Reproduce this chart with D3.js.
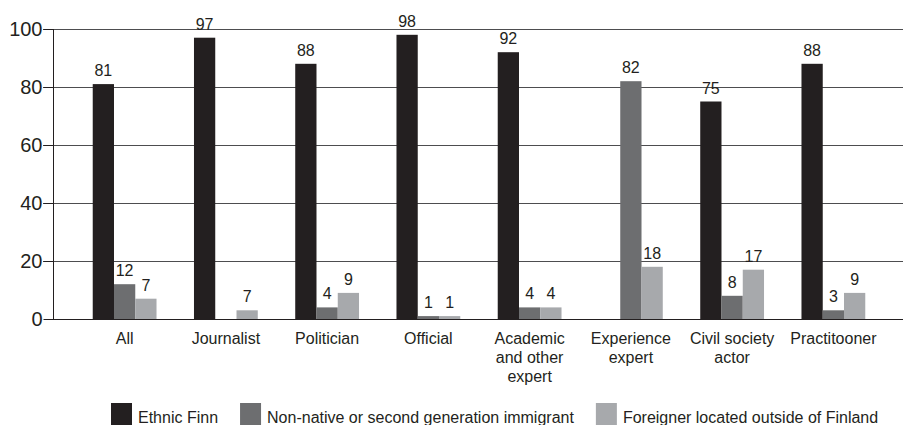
<!DOCTYPE html>
<html>
<head>
<meta charset="utf-8">
<script src="https://cdn.jsdelivr.net/npm/d3@7"></script>
<style>
  body { margin: 0; background: #fff; }
  svg { display: block; font-family: "Liberation Sans", Arial, Helvetica, sans-serif; }
</style>
</head>
<body>
<svg id="chart"></svg>
<script>
// categories along the x axis ("\n" = line break in label)
var categories = ["All", "Journalist", "Politician", "Official",
  "Academic\nand other\nexpert", "Experience\nexpert", "Civil society\nactor", "Practitooner"];

var seriesNames = ["Ethnic Finn", "Non-native or second generation immigrant", "Foreigner located outside of Finland"];
var seriesColors = ["#231f20", "#6d6e70", "#a7a9ac"];

// bar heights (null = no bar)
var ethnicFinn = [81, 97, 88, 98, 92, null, 75, 88];
var nonNative  = [12, null, 4, 1, 4, 82, 8, 3];
var foreigner  = [7, 3, 9, 1, 4, 18, 17, 9];

// printed value labels (Journalist's foreigner bar is labelled 7 in the source)
var ethnicFinnText = [81, 97, 88, 98, 92, null, 75, 88];
var nonNativeText  = [12, null, 4, 1, 4, 82, 8, 3];
var foreignerText  = [7, 7, 9, 1, 4, 18, 17, 9];

var yTicks = [0, 20, 40, 60, 80, 100];

var W = 903, H = 425;
var axisX = 53, plotRight = 903;

var svg = d3.select("#chart").attr("width", W).attr("height", H);

var y = d3.scaleLinear().domain([0, 100]).range([319, 29]);

var x0 = d3.scaleBand()
  .domain(categories)
  .range([74, 884])
  .paddingInner(0.37)
  .paddingOuter(0.185);

var x1 = d3.scaleBand()
  .domain([0, 1, 2])
  .range([0, x0.bandwidth()]);

var values = [ethnicFinn, nonNative, foreigner];
var texts = [ethnicFinnText, nonNativeText, foreignerText];

var bars = [];
categories.forEach(function(c, i) {
  for (var s = 0; s < 3; s++) {
    bars.push({cat: c, s: s, v: values[s][i], t: texts[s][i]});
  }
});

/** gridlines **/
svg.append("g").selectAll("line")
  .data(yTicks.filter(function(d) { return d > 0; }))
  .enter().append("line")
    .attr("x1", axisX - 10).attr("x2", plotRight)
    .attr("y1", function(d) { return y(d) + 0.5; })
    .attr("y2", function(d) { return y(d) + 0.5; })
    .attr("stroke", "#4d4d4f").attr("stroke-width", 1);

/** y axis **/
var yAxis = d3.axisLeft(y).tickValues(yTicks).tickSize(10).tickPadding(1);
var gy = svg.append("g")
  .attr("transform", "translate(" + (axisX + 0.5) + ",0)")
  .call(yAxis);
gy.select(".domain").remove();
gy.selectAll(".tick line").attr("stroke", "#231f20");
gy.selectAll("text")
  .attr("fill", "#231f20")
  .style("font-size", "20px")
  .style("font-family", "Liberation Sans, Arial, sans-serif");

svg.append("line")
  .attr("x1", axisX + 0.5).attr("x2", axisX + 0.5)
  .attr("y1", y(100)).attr("y2", y(0))
  .attr("stroke", "#231f20");

/** bars **/
svg.append("g").selectAll("rect")
  .data(bars.filter(function(d) { return d.v != null; }))
  .enter().append("rect")
    .attr("x", function(d) { return x0(d.cat) + x1(d.s); })
    .attr("y", function(d) { return y(d.v); })
    .attr("width", x1.bandwidth())
    .attr("height", function(d) { return y(0) - y(d.v); })
    .attr("fill", function(d) { return seriesColors[d.s]; });

/** baseline **/
svg.append("line")
  .attr("x1", axisX).attr("x2", plotRight)
  .attr("y1", y(0) + 0.5).attr("y2", y(0) + 0.5)
  .attr("stroke", "#231f20");

/** value labels **/
svg.append("g").selectAll("text")
  .data(bars.filter(function(d) { return d.t != null; }))
  .enter().append("text")
    .attr("x", function(d) { return x0(d.cat) + x1(d.s) + x1.bandwidth() / 2; })
    .attr("y", function(d) { return y(d.v) - 8; })
    .attr("text-anchor", "middle")
    .style("font-size", "16px")
    .attr("fill", "#231f20")
    .text(function(d) { return d.t; });

/** category labels **/
var cl = svg.append("g").selectAll("text")
  .data(categories)
  .enter().append("text")
    .attr("x", function(d) { return x0(d) + x0.bandwidth() / 2; })
    .attr("y", 344)
    .attr("text-anchor", "middle")
    .style("font-size", "16px")
    .attr("fill", "#231f20");
cl.selectAll("tspan")
  .data(function(d) { return d.split("\n"); })
  .enter().append("tspan")
    .attr("x", function() { return d3.select(this.parentNode).attr("x"); })
    .attr("dy", function(d, i) { return i === 0 ? 0 : 19; })
    .text(function(d) { return d; });

/** legend **/
var lx = 111;
seriesNames.forEach(function(name, i) {
  svg.append("rect")
    .attr("x", lx).attr("y", 403)
    .attr("width", 21).attr("height", 22)
    .attr("fill", seriesColors[i]);
  var t = svg.append("text")
    .attr("x", lx + 27).attr("y", 423)
    .style("font-size", "16px")
    .attr("fill", "#231f20")
    .text(name);
  lx = lx + 27 + t.node().getComputedTextLength() + 22;
});
</script>
</body>
</html>
